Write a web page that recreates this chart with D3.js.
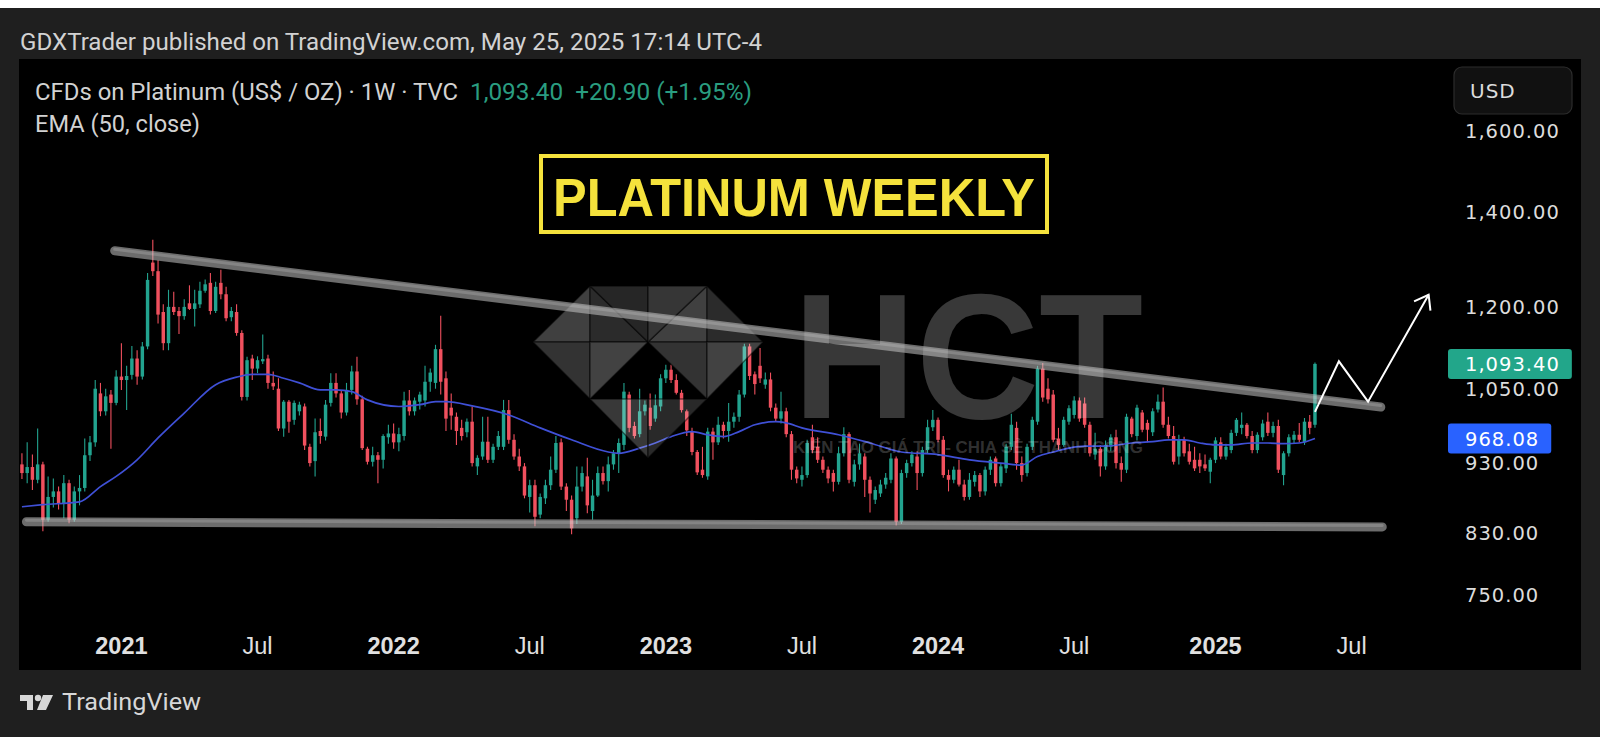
<!DOCTYPE html>
<html><head><meta charset="utf-8">
<script src="https://cdn.jsdelivr.net/npm/d3@7"></script>
<style>html,body{margin:0;padding:0;background:#1f1f1f;overflow:hidden}</style>
</head><body>
<svg id="c" width="1600" height="737"></svg>
<script>
// ---- Weekly OHLC [open, high, low, close] ----
const candles2020 = [
[928,945,906,915],[915,962,900,924],[924,943,890,905],[905,984,900,928],[928,932,832,848],
[848,910,845,880],[880,907,865,888],[888,895,862,870],[870,912,850,900],[900,905,843,848],
[848,895,845,888],[888,912,868,893],[893,968,888,942],[942,972,933,962],[962,1065,955,1050],
[1042,1060,1004,1012],[1012,1050,1005,1037],[1040,1048,952,1026],[1026,1082,1022,1071]];
const candles2021 = [
[1071,1131,1048,1065],[1065,1090,1014,1072],[1074,1126,1066,1103],[1103,1118,1057,1071],[1071,1133,1066,1125],
[1125,1268,1120,1254],[1290,1339,1262,1272],[1272,1295,1168,1185],[1190,1205,1118,1131],[1131,1234,1118,1200],
[1200,1230,1184,1190],[1192,1200,1148,1182],[1182,1215,1175,1200],[1207,1243,1194,1196],[1196,1234,1162,1207],
[1205,1250,1198,1232],[1232,1255,1228,1245],[1248,1268,1185,1192],[1192,1250,1188,1240],[1248,1275,1215,1225],
[1225,1240,1172,1178],[1180,1200,1172,1192],[1190,1205,1145,1150],[1150,1155,1030,1036],[1036,1106,1030,1100],
[1103,1110,1065,1085],[1085,1107,1077,1100],[1098,1147,1093,1102],[1103,1110,1050,1060],[1060,1080,1048,1054],
[1050,1068,980,984],[984,1031,971,1028],[1028,1031,977,995],[998,1030,990,1026],[1012,1028,1005,1023],
[1020,1025,950,957],[955,960,925,930],[933,1000,910,978],[980,1000,960,972],[971,1031,965,1023],
[1026,1077,1020,1060],[1060,1077,1035,1042],[1042,1048,1000,1010],[1010,1060,1005,1048],[1048,1090,1040,1080],
[1080,1106,1023,1032],[1032,1038,950,953],[952,955,928,932],[932,955,925,942],[942,947,900,935],
[935,975,922,972],[970,990,960,976]];
const candles2022 = [
[976,992,952,962],[962,985,948,975],[972,1045,965,1030],[1030,1048,1005,1012],[1012,1035,1005,1030],
[1028,1045,1015,1040],[1030,1090,1020,1062],[1062,1085,1045,1078],[1060,1128,1050,1120],[1120,1183,1040,1062],
[1068,1080,980,1000],[1018,1042,982,1005],[1003,1010,958,980],[985,998,965,972],[978,1000,970,995],
[995,1020,925,930],[925,942,912,938],[940,1003,935,963],[963,1003,930,935],[935,960,930,955],
[955,980,950,972],[955,1031,950,1014],[1014,1031,960,966],[966,975,935,940],[940,952,918,925],
[925,930,878,882],[880,905,858,897],[897,905,839,852],[855,885,850,880],[878,905,870,897],
[897,940,890,920],[920,972,915,961],[962,968,890,895],[895,900,860,876],[876,882,828,836],
[850,925,842,895],[895,925,888,915],[910,938,857,868],[860,905,848,882],[882,925,880,915],
[915,925,898,903],[903,940,888,928],[928,950,920,945],[945,968,915,961],[958,1060,950,1045],
[1040,1045,978,985],[988,995,968,972],[975,1050,970,1012],[1012,1030,1005,1023],[1018,1042,982,988],
[1000,1040,995,1022],[1020,1075,1012,1068]];
const candles2023 = [
[1068,1092,1060,1083],[1083,1092,1060,1065],[1065,1075,1040,1043],[1043,1048,1010,1014],[1012,1015,972,981],
[980,985,942,947],[947,950,912,916],[920,955,908,912],[910,985,905,979],[979,985,935,962],
[962,1003,958,990],[990,995,968,980],[980,1026,963,995],[995,1010,985,1003],[1003,1048,995,1040],
[1040,1130,1035,1125],[1125,1130,1065,1072],[1075,1080,1040,1058],[1090,1122,1060,1068],[1057,1078,1050,1066],
[1066,1078,1012,1018],[1018,1025,995,1000],[1000,1045,992,1012],[1012,1018,970,975],[975,980,905,920],
[920,925,900,907],[905,925,895,912],[912,966,908,961],[970,990,945,950],[955,970,930,935],
[935,940,915,920],[920,925,900,907],[915,920,888,902],[902,955,898,945],[945,986,940,975],
[975,978,900,905],[902,935,895,928],[928,960,920,945],[940,945,880,905],[905,910,858,885],
[876,895,870,890],[885,905,880,898],[898,915,892,908],[905,945,900,937],[937,940,840,845],
[845,920,842,915],[915,935,908,930],[930,948,925,943],[940,948,890,915],[915,955,910,950],
[950,998,945,986],[986,1014,980,998]];
const candles2024 = [
[998,1002,962,966],[966,972,908,912],[912,920,888,905],[905,925,900,920],[920,935,895,898],
[898,905,875,880],[880,915,876,905],[902,918,895,912],[912,915,880,888],[888,925,882,920],
[920,940,912,935],[937,940,895,900],[900,930,895,925],[922,960,915,955],[955,1008,950,990],
[985,995,920,930],[930,940,902,912],[915,960,910,955],[955,1003,950,998],[995,1090,990,1085],
[1085,1095,1028,1035],[1050,1068,1025,1032],[1040,1048,962,966],[968,985,950,958],[958,1003,955,998],
[995,1022,990,1017],[1006,1037,1000,1030],[1030,1035,995,1000],[1025,1035,985,990],[990,995,940,945],
[943,977,935,952],[952,958,910,925],[925,965,920,958],[955,975,948,970],[970,982,922,930],
[930,940,902,920],[920,1008,915,1003],[1000,1003,970,975],[972,1023,965,1018],[1010,1014,978,982],
[993,998,962,982],[978,1017,972,1012],[1015,1040,1010,1028],[1028,1052,985,990],[990,1003,968,972],
[972,988,928,932],[940,974,928,966],[966,971,940,945],[948,960,928,932],[935,955,918,922],
[935,945,915,925],[928,943,918,922],[917,938,900,935]];
const candles2025 = [
[935,970,930,965],[962,970,936,940],[940,960,935,955],[950,982,945,977],[977,1001,972,998],
[985,1010,975,990],[990,993,968,972],[972,980,945,950],[950,978,945,974],[970,998,965,992],
[995,1010,972,977],[977,995,970,988],[988,998,915,920],[912,948,897,945],[945,975,940,970],
[966,980,960,974],[974,993,962,966],[962,1001,958,995],[995,1006,975,985],[990,1096,985,1093.4]];

// EMA(50, close): bar number -> value
const emaBars   = [0,4,11,15,18,22,26,31,37,41,44,47,50,53,57,60,63,66,72,76,79,81,86,93,99,105,112,114,118,121,124,128,131,134,137,140,144,146,149,156,162,168,175,181,187,191,194,197,200,203,207,212,216,219,222,225,228,231,235,238,241,244,247];
const emaValues = [866,869,873,895,910,935,969,1009,1057,1070,1075,1075,1068,1060,1048,1048,1045,1031,1020,1023,1028,1028,1021,1006,985,966,947,945,953,961,971,979,974,971,979,990,995,993,985,974,961,947,943,935,930,927,940,947,953,956,956,961,963,966,966,961,958,958,961,961,960,961,968.08];

const priceTicks = [1600,1400,1200,1050,930,830,750];
const timeTickDates  = ["2021-01-04","2021-07-05","2022-01-03","2022-07-04","2023-01-02","2023-07-03","2024-01-01","2024-07-01","2025-01-06","2025-07-07"];
const timeTickLabels = ["2021","Jul","2022","Jul","2023","Jul","2024","Jul","2025","Jul"];

const upperTrend = [["2020-12-26",1315],["2025-08-15",1019]];
const lowerTrend = [["2020-08-30",845],["2025-08-17",838]];
const projection = [["2025-05-19",1011],["2025-06-20",1098],["2025-07-29",1028],["2025-10-18",1224]];

const lastClose = 1093.40, lastChange = 20.90, lastPct = 1.95, emaLast = 968.08;

// ---- drawing ----
const svg = d3.select("#c");
const up = "#22a38f", down = "#f0505e";
const axisFont = "'DejaVu Sans', sans-serif";
const uiFont = "Roboto, 'Liberation Sans', sans-serif";

const x = d3.scaleUtc().domain([new Date("2021-01-04"), new Date("2025-01-06")]).range([121.4, 1215.5]);
const y = d3.scaleLog().domain([750, 1600]).range([594.9, 130.6]);

const candles = [].concat(candles2020, candles2021, candles2022, candles2023, candles2024, candles2025);
const weeks = d3.utcMonday.range(new Date(Date.UTC(2020,7,24)), new Date(Date.UTC(2025,4,20)));
const n = Math.min(weeks.length, candles.length);
const bars = d3.range(n).map(i => ({date: weeks[i], o: candles[i][0], h: candles[i][1], l: candles[i][2], c: candles[i][3]}));
const step = x(weeks[1]) - x(weeks[0]);
const bw = step * 0.66;

const defs = svg.append("defs");
defs.append("clipPath").attr("id","plot").append("rect")
  .attr("x",19).attr("y",59).attr("width",1562).attr("height",611);

svg.append("rect").attr("width",1600).attr("height",737).attr("fill","#1f1f1f");
svg.append("rect").attr("width",1600).attr("height",8).attr("fill","#ffffff");
svg.append("text").attr("x",20).attr("y",50).attr("fill","#d2d2d2")
  .attr("font-family",uiFont).attr("font-size",23)
  .attr("textLength",742).attr("lengthAdjust","spacingAndGlyphs")
  .text("GDXTrader published on TradingView.com, May 25, 2025 17:14 UTC-4");

svg.append("rect").attr("x",19).attr("y",59).attr("width",1562).attr("height",611).attr("fill","#000");

const plot = svg.append("g").attr("clip-path","url(#plot)");

// candles
const cg = plot.append("g");
cg.selectAll("line.wick").data(bars).join("line").attr("class","wick")
  .attr("x1", d => x(d.date)).attr("x2", d => x(d.date))
  .attr("y1", d => y(d.h)).attr("y2", d => y(d.l))
  .attr("stroke", d => d.c >= d.o ? up : down).attr("stroke-width",1.1);
cg.selectAll("rect.body").data(bars).join("rect").attr("class","body")
  .attr("x", d => x(d.date) - bw/2).attr("width", bw)
  .attr("y", d => y(Math.max(d.o,d.c)))
  .attr("height", d => Math.max(1, Math.abs(y(d.o) - y(d.c))))
  .attr("fill", d => d.c >= d.o ? up : down);

// EMA
const emaPts = emaBars.map((b,k) => [x(weeks[b]), y(emaValues[k])]);
plot.append("path").attr("d", d3.line().curve(d3.curveMonotoneX)(emaPts))
  .attr("fill","none").attr("stroke","#3f50d6").attr("stroke-width",1.7);

// watermark (logo + HCT)
const wm = plot.append("g");
const A=[590,286],B=[707,286],L=[533,342],M=[648,342],R=[763,342],P=[590,399],Q=[707,399],Bt=[648,458],Cl=[590,342],Cr=[707,342],Tm=[648,286],Pm=[648,399];
const facets = [
  [[L,A,Cl],0.25],[[A,M,Cl],0.17],[[L,Cl,P],0.2],[[Cl,M,P],0.26],
  [[M,B,Cr],0.25],[[B,R,Cr],0.17],[[M,Cr,Q],0.2],[[Cr,R,Q],0.26],
  [[A,Tm,M],0.15],[[Tm,B,M],0.21],[[P,Pm,Bt],0.22],[[Pm,Q,Bt],0.16]
];
wm.selectAll("path").data(facets).join("path")
  .attr("d", f => "M" + f[0].map(p => p.join(",")).join("L") + "Z")
  .attr("fill","#ffffff").attr("fill-opacity", f => f[1])
  .attr("stroke","#000").attr("stroke-opacity",0.5).attr("stroke-width",1.5);
wm.append("text").attr("x",793).attr("y",418).attr("fill","#ffffff").attr("fill-opacity",0.22)
  .attr("font-family","'Liberation Sans', Arial, sans-serif").attr("font-weight","bold").attr("font-size",178)
  .attr("textLength",350).attr("lengthAdjust","spacingAndGlyphs").text("HCT");
wm.append("text").attr("x",793).attr("y",453).attr("fill","#ffffff").attr("fill-opacity",0.2)
  .attr("font-family","'Liberation Sans', Arial, sans-serif").attr("font-weight","bold").attr("font-size",16.5)
  .attr("textLength",350).attr("lengthAdjust","spacingAndGlyphs").text("KIẾN TẠO GIÁ TRỊ - CHIA SẺ THÀNH CÔNG");

// trend lines
const tl = d3.line().x(d => x(new Date(d[0]))).y(d => y(d[1]));
[upperTrend, lowerTrend].forEach(t => {
  plot.append("path").attr("d", tl(t)).attr("fill","none")
    .attr("stroke","#c4c4c4").attr("stroke-opacity",0.55).attr("stroke-width",9).attr("stroke-linecap","round");
  plot.append("path").attr("d", tl(t)).attr("fill","none")
    .attr("stroke","#e6e6e6").attr("stroke-opacity",0.2).attr("stroke-width",3).attr("stroke-linecap","round")
    .attr("transform","translate(0,-1.5)");
});

// projection zig-zag
const pp = projection.map(d => [x(new Date(d[0])), y(d[1])]);
plot.append("path").attr("d", d3.line()(pp)).attr("fill","none")
  .attr("stroke","#ffffff").attr("stroke-width",2).attr("stroke-linejoin","miter");
const p1 = pp[pp.length-2], p2 = pp[pp.length-1];
const ang = Math.atan2(p2[1]-p1[1], p2[0]-p1[0]), al = 16, sp = Math.PI/5;
const a1 = [p2[0]-al*Math.cos(ang-sp), p2[1]-al*Math.sin(ang-sp)];
const a2 = [p2[0]-al*Math.cos(ang+sp), p2[1]-al*Math.sin(ang+sp)];
plot.append("path").attr("d", d3.line()([a1,p2,a2])).attr("fill","none")
  .attr("stroke","#ffffff").attr("stroke-width",2);

// title box
svg.append("rect").attr("x",541).attr("y",156).attr("width",506).attr("height",76)
  .attr("fill","none").attr("stroke","#f5e23c").attr("stroke-width",4);
svg.append("text").attr("x",794).attr("y",216).attr("text-anchor","middle").attr("fill","#f5e23c")
  .attr("font-family","'Liberation Sans', Arial, sans-serif").attr("font-weight","bold").attr("font-size",53)
  .attr("textLength",482).attr("lengthAdjust","spacingAndGlyphs").text("PLATINUM WEEKLY");

// legend
const fmt2 = d3.format(",.2f");
svg.append("text").attr("x",35).attr("y",100).attr("fill","#d2d2d2").attr("font-family",uiFont).attr("font-size",23)
  .attr("textLength",423).attr("lengthAdjust","spacingAndGlyphs").text("CFDs on Platinum (US$ / OZ) · 1W · TVC");
svg.append("text").attr("x",470).attr("y",100).attr("fill","#2a9d80").attr("font-family",uiFont).attr("font-size",23)
  .attr("textLength",282).attr("lengthAdjust","spacingAndGlyphs").attr("xml:space","preserve")
  .text(fmt2(lastClose) + "  +" + fmt2(lastChange) + " (+" + lastPct.toFixed(2) + "%)");
svg.append("text").attr("x",35).attr("y",132).attr("fill","#d2d2d2").attr("font-family",uiFont).attr("font-size",23)
  .attr("textLength",165).attr("lengthAdjust","spacingAndGlyphs").text("EMA (50, close)");

// USD box
svg.append("rect").attr("x",1454).attr("y",67).attr("width",118).attr("height",47).attr("rx",8)
  .attr("fill","#111111").attr("stroke","#2c2c2c").attr("stroke-width",1.2);
svg.append("text").attr("x",1470).attr("y",91).attr("dy","0.36em").attr("fill","#dcdcdc")
  .attr("font-family",axisFont).attr("font-size",20).attr("letter-spacing",1).text("USD");

// price axis
svg.append("g").selectAll("text").data(priceTicks).join("text")
  .attr("x",1465).attr("y", d => y(d)).attr("dy","0.36em").attr("fill","#dcdcdc")
  .attr("font-family",axisFont).attr("font-size",19.5).attr("letter-spacing",1)
  .text(d => fmt2(d));

// price labels
[[lastClose,"#22a68a"],[emaLast,"#2962ff"]].forEach(([v,col]) => {
  const g = svg.append("g");
  const r = g.append("rect").attr("x",1448).attr("y",y(v)-15).attr("height",30).attr("rx",3).attr("fill",col);
  const t = g.append("text").attr("x",1465).attr("y",y(v)).attr("dy","0.36em").attr("fill","#ffffff")
    .attr("font-family",axisFont).attr("font-size",19.5).attr("letter-spacing",1).text(fmt2(v));
  r.attr("width", t.node().getComputedTextLength() + 17 + 12);
});

// time axis
svg.append("g").selectAll("text").data(timeTickDates).join("text")
  .attr("x", d => x(new Date(d))).attr("y",646).attr("dy","0.36em").attr("text-anchor","middle")
  .attr("fill","#e0e0e0").attr("font-family","'Liberation Sans', Arial, sans-serif").attr("font-size",23.5)
  .attr("font-weight",(d,i) => timeTickLabels[i] === "Jul" ? "normal" : "bold")
  .text((d,i) => timeTickLabels[i]);

// TradingView footer
const lg = svg.append("g").attr("fill","#d7d7d7");
lg.append("path").attr("d","M20,695 H33 V710 H27 V701 H20 Z");
lg.append("circle").attr("cx",38).attr("cy",698).attr("r",3.2);
lg.append("path").attr("d","M43,695 H53 L46,710 H37 Z");
lg.append("text").attr("x",62).attr("y",710).attr("font-family",uiFont).attr("font-size",24)
  .attr("textLength",139).attr("lengthAdjust","spacingAndGlyphs").text("TradingView");
</script>
</body></html>
